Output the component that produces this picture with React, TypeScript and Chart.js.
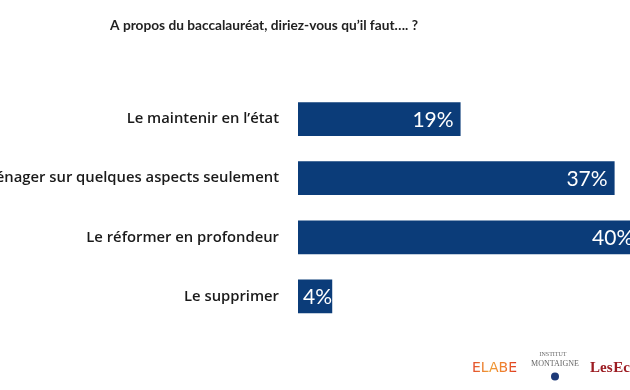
import React, { useEffect, useRef } from "react";
import { Chart, registerables } from "chart.js";

Chart.register(...registerables);

const title = "A propos du baccalauréat, diriez-vous qu’il faut…. ?";
const categories = [
  "Le maintenir en l’état",
  "L’aménager sur quelques aspects seulement",
  "Le réformer en profondeur",
  "Le supprimer",
];
const values = [19, 37, 40, 4];
const valueLabels = ["19%", "37%", "40%", "4%"];

const BAR = "#0b3c79";

const decorPlugin = {
  id: "decor",
  afterDatasetsDraw(chart: any) {
    const ctx = chart.ctx as CanvasRenderingContext2D;
    const meta = chart.getDatasetMeta(0);
    ctx.save();
    ctx.font = "21px Lato";
    ctx.fillStyle = "#ffffff";
    ctx.textBaseline = "middle";
    ctx.textAlign = "left";
    meta.data.forEach((bar: any, i: number) => {
      const txt = valueLabels[i];
      const w = ctx.measureText(txt).width;
      const left = bar.base;
      const right = bar.x;
      const x = Math.max(right - 7 - w, left + 5);
      ctx.save();
      ctx.beginPath();
      ctx.rect(left, bar.y - 20, right - left, 40);
      ctx.clip();
      ctx.fillText(txt, x, bar.y + 1);
      ctx.restore();
    });
    ctx.restore();
  },
  afterDraw(chart: any) {
    const ctx = chart.ctx as CanvasRenderingContext2D;
    ctx.save();
    // title
    ctx.font = "bold 13.7px Lato";
    ctx.fillStyle = "#222222";
    ctx.textAlign = "center";
    ctx.textBaseline = "middle";
    ctx.fillText(title, 264, 26);

    // ELABE logo
    ctx.font = "14px 'DejaVu Sans'";
    ctx.textAlign = "left";
    const g = ctx.createLinearGradient(472, 0, 519, 0);
    g.addColorStop(0, "#e2452a");
    g.addColorStop(0.35, "#f0a035");
    g.addColorStop(0.7, "#ee7a2c");
    g.addColorStop(1, "#d8261f");
    ctx.fillStyle = g;
    ctx.fillText("ELABE", 472, 368.5);

    // Institut Montaigne
    ctx.fillStyle = "#666666";
    ctx.textAlign = "center";
    ctx.font = "6px 'Liberation Serif'";
    ctx.fillText("INSTITUT", 553, 354);
    ctx.font = "8px 'Liberation Serif'";
    ctx.fillText("MONTAIGNE", 555, 363.5);
    ctx.fillStyle = "#1d3a78";
    ctx.beginPath();
    ctx.arc(555, 376.5, 4, 0, Math.PI * 2);
    ctx.fill();

    // Les Echos
    ctx.fillStyle = "#9c1c22";
    ctx.textAlign = "left";
    ctx.font = "bold 15px 'Liberation Serif'";
    (ctx as any).wordSpacing = "-3px";
    ctx.fillText("Les Echos", 590, 368.5);
    ctx.restore();
  },
};

export default function App() {
  const ref = useRef<HTMLCanvasElement | null>(null);
  useEffect(() => {
    if (!ref.current) return;
    const chart = new Chart(ref.current, {
      type: "bar",
      data: {
        labels: categories,
        datasets: [
          {
            data: values,
            backgroundColor: BAR,
            borderWidth: 0,
            barPercentage: 0.57,
            categoryPercentage: 1,
          },
        ],
      },
      options: {
        indexAxis: "y",
        animation: false,
        responsive: false,
        maintainAspectRatio: false,
        layout: { padding: { top: 89.5, bottom: 64, left: 0, right: 0 } },
        plugins: {
          legend: { display: false },
          tooltip: { enabled: false },
          title: { display: false },
        },
        scales: {
          x: { display: false, min: 0, max: 38.8 },
          y: {
            grid: { display: false, drawTicks: false },
            border: { display: false },
            ticks: {
              color: "#1a1a1a",
              font: { family: "'Open Sans'", size: 14.8, weight: "600" },
              padding: 19,
            },
            afterFit(scale: any) {
              scale.width = 298;
            },
          },
        },
      },
      plugins: [decorPlugin],
    });
    return () => chart.destroy();
  }, []);
  return (
    <div style={{ position: "fixed", left: 0, top: 0, width: 630, height: 390, background: "#fff" }}>
      <canvas ref={ref} width={630} height={390} style={{ width: 630, height: 390, display: "block" }} />
    </div>
  );
}
